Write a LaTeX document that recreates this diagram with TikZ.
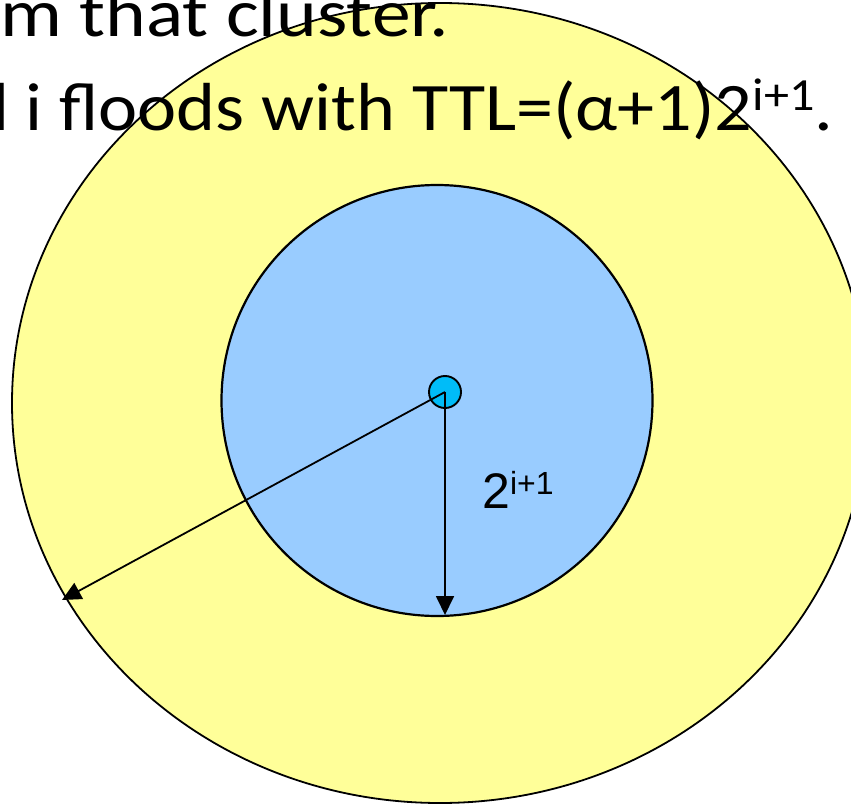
\documentclass[tikz,border=0pt]{standalone}
\usepackage{fontspec}
\setmainfont{Carlito}
\newfontfamily\arialfont{Liberation Sans}
\usetikzlibrary{arrows.meta}
\definecolor{outerfill}{HTML}{FFFF99}
\definecolor{innerfill}{HTML}{99CCFF}
\definecolor{dotfill}{HTML}{00BCF8}
\tikzset{
  radiusarrow/.style={line width=1.8pt, -{Triangle[length=19pt,width=18pt]}},
  bigtext/.style={inner sep=0pt, anchor=base west, font=\fontsize{68}{68}\selectfont},
}
\begin{document}
\begin{tikzpicture}[x=1pt,y=-1pt]
\useasboundingbox (0,0) rectangle (851,805);
\fill[white] (0,0) rectangle (851,805);
\draw[fill=outerfill, line width=1.8pt] (440,403) ellipse [x radius=428, y radius=400];
\draw[fill=innerfill, line width=2.2pt] (437,400.5) circle [radius=215.5];
\node[circle, draw, line width=1.9pt, fill=dotfill, minimum size=32pt, inner sep=0pt] (dot) at (445,392) {};
\coordinate (src) at (445,392);
\coordinate (tipA) at (62,600);
\coordinate (tipB) at (445,615);
\draw[radiusarrow] (src) -- (tipA);
\draw[radiusarrow] (src) -- (tipB);
\node[inner sep=0pt, anchor=base west, font=\arialfont\fontsize{50}{50}\selectfont] (lbl) at (482,508) {2\raisebox{14pt}{\fontsize{32}{32}\selectfont i+1}};
\node[bigtext] (line1) at (0,37) {\scalebox{1.14}[1]{m that cluster.}};
\node[bigtext] (line2) at (-8,131) {\scalebox{1.09}[1]{l i floods with TTL=(α+1)2\raisebox{20pt}{\fontsize{46}{46}\selectfont i+1}.}};
\end{tikzpicture}
\end{document}
